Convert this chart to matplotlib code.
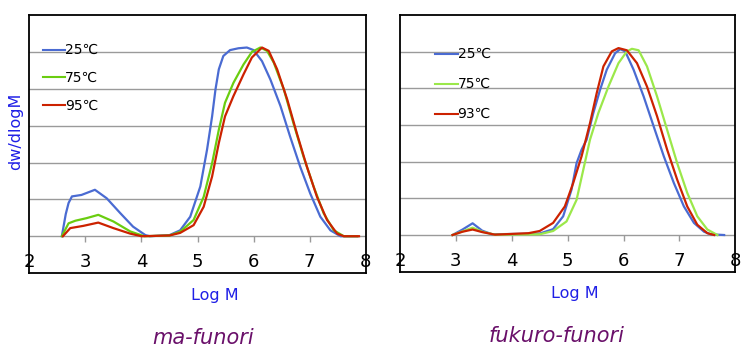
import matplotlib.pyplot as plt

# ma-funori (left)
ma_x25 = [2.58, 2.65, 2.70, 2.76, 2.93, 3.17, 3.38, 3.62, 3.85, 4.07, 4.15, 4.50, 4.69, 4.87, 5.05, 5.17, 5.26, 5.32, 5.38, 5.46, 5.58, 5.73, 5.88, 6.00, 6.15, 6.30, 6.48, 6.65, 6.83, 7.01, 7.19, 7.37, 7.55, 7.85]
ma_y25 = [0.00, 0.60, 0.90, 1.08, 1.12, 1.26, 1.03, 0.63, 0.26, 0.03, 0.00, 0.03, 0.16, 0.53, 1.35, 2.35, 3.25, 3.98, 4.53, 4.89, 5.05, 5.10, 5.12, 5.05, 4.75, 4.25, 3.53, 2.71, 1.89, 1.16, 0.53, 0.16, 0.00, 0.00]
ma_x75 = [2.58, 2.70, 2.82, 3.02, 3.23, 3.50, 3.80, 4.05, 4.50, 4.69, 4.93, 5.11, 5.26, 5.38, 5.49, 5.64, 5.82, 5.97, 6.12, 6.24, 6.36, 6.54, 6.71, 6.89, 7.07, 7.25, 7.43, 7.61, 7.85]
ma_y75 = [0.00, 0.35, 0.42, 0.49, 0.58, 0.40, 0.13, 0.00, 0.02, 0.12, 0.44, 1.07, 1.98, 2.89, 3.62, 4.16, 4.66, 5.00, 5.12, 5.03, 4.71, 3.98, 3.07, 2.16, 1.35, 0.62, 0.16, 0.00, 0.00]
ma_x95 = [2.60, 2.73, 2.96, 3.23, 3.50, 3.80, 4.00, 4.50, 4.69, 4.93, 5.11, 5.26, 5.38, 5.49, 5.64, 5.82, 5.97, 6.15, 6.27, 6.42, 6.60, 6.77, 6.95, 7.13, 7.31, 7.49, 7.61, 7.88]
ma_y95 = [0.00, 0.22, 0.28, 0.37, 0.22, 0.07, 0.00, 0.02, 0.09, 0.30, 0.80, 1.62, 2.53, 3.25, 3.80, 4.39, 4.85, 5.12, 5.03, 4.53, 3.71, 2.80, 1.89, 1.07, 0.44, 0.07, 0.00, 0.00]

# fukuro-funori (right)
fu_x25 = [2.94, 3.12, 3.30, 3.47, 3.65, 4.50, 4.74, 4.92, 5.07, 5.16, 5.25, 5.34, 5.46, 5.58, 5.70, 5.85, 5.94, 6.03, 6.18, 6.36, 6.54, 6.72, 6.90, 7.08, 7.26, 7.44, 7.56, 7.80]
fu_y25 = [0.00, 0.15, 0.32, 0.12, 0.02, 0.04, 0.16, 0.51, 1.24, 1.96, 2.33, 2.60, 3.33, 3.96, 4.51, 4.96, 5.07, 5.01, 4.51, 3.78, 2.96, 2.15, 1.42, 0.78, 0.33, 0.09, 0.02, 0.00]
fu_x75 = [2.94, 3.12, 3.30, 3.47, 3.70, 4.50, 4.74, 4.98, 5.16, 5.28, 5.40, 5.55, 5.73, 5.91, 6.06, 6.15, 6.27, 6.42, 6.60, 6.78, 6.96, 7.14, 7.32, 7.50, 7.68]
fu_y75 = [0.00, 0.10, 0.20, 0.09, 0.01, 0.02, 0.11, 0.37, 0.96, 1.78, 2.60, 3.33, 4.05, 4.69, 5.01, 5.08, 5.04, 4.60, 3.78, 2.87, 1.96, 1.15, 0.51, 0.15, 0.00]
fu_x93 = [2.94, 3.12, 3.30, 3.47, 3.70, 4.30, 4.50, 4.74, 4.95, 5.10, 5.25, 5.40, 5.52, 5.64, 5.79, 5.91, 6.06, 6.24, 6.42, 6.60, 6.78, 6.96, 7.14, 7.32, 7.50, 7.62]
fu_y93 = [0.00, 0.09, 0.15, 0.08, 0.01, 0.05, 0.11, 0.33, 0.78, 1.42, 2.15, 3.05, 3.87, 4.60, 5.01, 5.10, 5.04, 4.69, 4.05, 3.24, 2.33, 1.51, 0.78, 0.28, 0.05, 0.00]

xtick_vals = [2, 3, 4, 5, 6, 7, 8]
blue_txt = '#1f1fe6'
purple = '#6a106a'


def panel(ax, series, labels, colors, titulo, ylabel=None, leg_x=(2.24, 2.63),
          leg_y=(5.06, 4.31, 3.55), xlab_x=5.0, titulo_x=5.0):
    ax.set_xlim(2, 8)
    ax.set_ylim(-1, 6)
    for y in range(0, 6):
        ax.axhline(y, color='#9a9a9a', lw=1, zorder=1)
    ax.vlines(xtick_vals[1:-1], -0.16, 0, color='#9a9a9a', lw=1)
    for (x, y), c in zip(series, colors):
        ax.plot(x, y, color=c, lw=1.6, zorder=3, solid_joinstyle='round')
    for v in xtick_vals:
        ax.text(v, -0.7, str(v), ha='center', va='center', fontsize=13, clip_on=False)
    for lbl, c, yy in zip(labels, colors, leg_y):
        ax.plot(leg_x, [yy, yy], color=c, lw=1.5)
        ax.text(leg_x[1], yy, lbl, va='center', fontsize=10)
    ax.set_xticks([])
    ax.set_yticks([])
    for s in ax.spines.values():
        s.set_color('black')
        s.set_linewidth(1.3)
    ax.text(xlab_x, -1.6, 'Log M', ha='center', va='center', fontsize=11.5, color=blue_txt, clip_on=False)
    ax.text(titulo_x, -2.75, titulo, ha='center', va='center', fontsize=15, style='italic', color=purple, clip_on=False)
    if ylabel:
        ax.text(1.75, 2.85, ylabel, ha='center', va='center', rotation=90, fontsize=11.5, color=blue_txt, clip_on=False)


fig = plt.figure(figsize=(7.42, 3.51), dpi=100)
ax1 = fig.add_axes([0.0395, 0.222, 0.4534, 0.735])
ax2 = fig.add_axes([0.539, 0.226, 0.452, 0.731])

panel(ax1, [(ma_x25, ma_y25), (ma_x75, ma_y75), (ma_x95, ma_y95)],
      ['25℃', '75℃', '95℃'], ['#4a6bd2', '#6acd10', '#cc2200'],
      'ma-funori', ylabel='dw/dlogM', xlab_x=5.3, titulo_x=5.1)
panel(ax2, [(fu_x25, fu_y25), (fu_x75, fu_y75), (fu_x93, fu_y93)],
      ['25℃', '75℃', '93℃'], ['#4a6bd2', '#9be84a', '#cc2200'],
      'fukuro-funori', leg_x=(2.63, 3.03), leg_y=(4.95, 4.13, 3.31),
      xlab_x=5.13, titulo_x=4.8)

fig.savefig('out.png', dpi=100)
